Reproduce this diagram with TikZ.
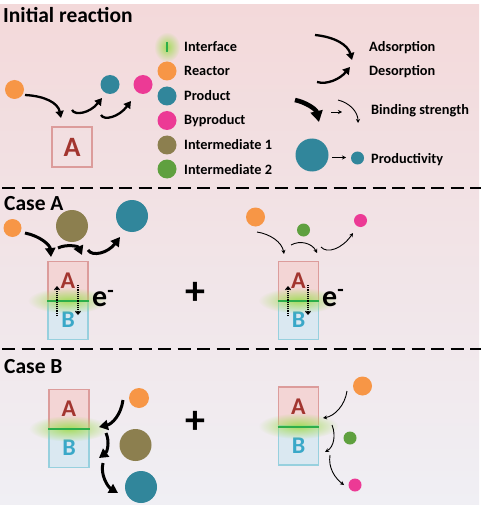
\documentclass[tikz,border=0pt]{standalone}
\usepackage{fontspec}
\setmainfont{Carlito}
\usetikzlibrary{arrows.meta,fadings}
\definecolor{bgtop}{HTML}{F3D9DA}
\definecolor{bgmid}{HTML}{F2E4E7}
\definecolor{bgbot}{HTML}{F0EFF4}
\definecolor{corange}{HTML}{F79646}
\definecolor{cteal}{HTML}{31869B}
\definecolor{cpink}{HTML}{EC3A95}
\definecolor{colive}{HTML}{8C7F4F}
\definecolor{cgreen}{HTML}{5FA03F}
\definecolor{boxAline}{HTML}{DC9C9B}
\definecolor{boxAfill}{HTML}{F3D5D5}
\definecolor{boxBline}{HTML}{97D0DE}
\definecolor{boxBfill}{HTML}{DAE8F1}
\definecolor{letterA}{HTML}{A2352F}
\definecolor{letterB}{HTML}{3AA8C8}
\definecolor{ifline}{HTML}{2DAE4A}
\definecolor{glowg}{HTML}{A6DC5E}
\tikzfading[name=glowfade, inner color=transparent!0, outer color=transparent!100]
\tikzset{
  ball/.style={circle, fill=#1, draw=none, inner sep=0pt},
  lbl/.style={anchor=base west, inner sep=0pt, font=\bfseries\fontsize{14.3}{16}\selectfont},
  ttl/.style={anchor=base west, inner sep=0pt, font=\bfseries\fontsize{21.5}{23}\selectfont},
  boxa/.style={draw=boxAline, fill=boxAfill, line width=1.6pt, minimum width=40pt, minimum height=39pt, inner sep=0pt, text=letterA, font=\bfseries\fontsize{24}{25}\selectfont},
  boxb/.style={draw=boxBline, fill=boxBfill, line width=1.6pt, minimum width=40pt, minimum height=39pt, inner sep=0pt, text=letterB, font=\bfseries\fontsize{24}{25}\selectfont},
  midarr/.style={line width=2.3pt, -{Triangle[length=7pt,width=8pt]}},
  fatarr/.style={line width=3pt, -{Triangle[length=9pt,width=10pt]}},
  heavyarr/.style={line width=4.5pt, -{Triangle[length=11pt,width=12pt]}},
  thinarr/.style={line width=0.9pt, -{Stealth[length=4pt,width=4pt]}},
  dotarr/.style={densely dotted, line width=1.2pt, -{Straight Barb[length=3pt,width=5pt]}},
  ifl/.style={draw=ifline, line width=2.2pt},
  glow/.style={fill=glowg, path fading=glowfade},
  elec/.style={anchor=base west, inner sep=0pt, font=\bfseries\fontsize{30}{32}\selectfont},
  plus/.style={inner sep=0pt, font=\bfseries\fontsize{40}{40}\selectfont},
  dashsep/.style={line width=2.8pt, dash pattern=on 13pt off 6.5pt}
}
\begin{document}
\begin{tikzpicture}[x=1pt,y=-1pt]
\useasboundingbox (0,0) rectangle (481,505);
\fill[white] (0,0) rectangle (481,505);
\shade[top color=bgtop, middle color=bgmid, bottom color=bgbot] (0,5) rectangle (479,505);

% ---------- titles
\node[ttl] (t0) at (3,23) {Initial reaction};
\node[ttl] (t1) at (4,210) {Case A};
\node[ttl] (t2) at (4,373) {Case B};

% ---------- initial reaction
\node[ball=corange, minimum size=19pt] (r0) at (14.5,89.5) {};
\node[ball=cteal, minimum size=19pt] (p0) at (110,84.5) {};
\node[ball=cpink, minimum size=19pt] (y0) at (143,84.5) {};
\node[boxa, minimum height=40pt, font=\bfseries\fontsize{28}{30}\selectfont, fill=none] (bx0) at (72,147) {A};
\coordinate (r0s) at (25,95);   \coordinate (r0e) at (61,118);
\coordinate (p0s) at (72,110);  \coordinate (p0e) at (102,98);
\coordinate (y0s) at (101,115); \coordinate (y0e) at (131,101);
\draw[midarr] (r0s) .. controls (45,96) and (58,103) .. (r0e);
\draw[midarr] (p0s) .. controls (75,116) and (90,113) .. (p0e);
\draw[midarr] (y0s) .. controls (104,121) and (119,117) .. (y0e);

% ---------- legend left
\fill[glow] (167,47) ellipse (13 and 15);
\coordinate (ifa) at (167,42); \coordinate (ifb) at (167,52.5);
\draw[ifl, line width=2.6pt] (ifa) -- (ifb);
\node[lbl] (lif) at (184,51.5) {Interface};
\node[ball=corange, minimum size=19pt] (lr) at (167,71) {};
\node[lbl] (lrt) at (184,76) {Reactor};
\node[ball=cteal, minimum size=19pt] (lp) at (167,96) {};
\node[lbl] (lpt) at (184,100.5) {Product};
\node[ball=cpink, minimum size=19pt] (lb) at (167,120.5) {};
\node[lbl] (lbt) at (184,125) {Byproduct};
\node[ball=colive, minimum size=19pt] (li1) at (167,145) {};
\node[lbl] (li1t) at (184,149.5) {Intermediate 1};
\node[ball=cgreen, minimum size=19pt] (li2) at (167,169) {};
\node[lbl] (li2t) at (184,174) {Intermediate 2};

% ---------- legend right
\coordinate (ads) at (315,35); \coordinate (ade) at (352,60);
\draw[midarr] (ads) .. controls (335,37) and (348,45) .. (ade);
\node[lbl] (adt) at (369,51.5) {Adsorption};
\coordinate (des) at (317,82); \coordinate (dee) at (350,67);
\draw[midarr] (des) .. controls (327,85) and (340,79) .. (dee);
\node[lbl] (det) at (369,76) {Desorption};
\coordinate (bs1) at (295,100); \coordinate (be1) at (319,122);
\draw[heavyarr] (bs1) .. controls (305,102) and (316,109) .. (be1);
\coordinate (bs2) at (331,112); \coordinate (be2) at (342,112);
\draw[thinarr] (bs2) -- (be2);
\coordinate (bs3) at (338,100); \coordinate (be3) at (358,123);
\draw[thinarr] (bs3) .. controls (350,103) and (358,112) .. (be3);
\node[lbl] (bst) at (371,115) {Binding strength};
\node[ball=cteal, minimum size=33pt] (pbig) at (312,155) {};
\node[ball=cteal, minimum size=13pt] (psml) at (357.5,158) {};
\coordinate (pas) at (332,157.5); \coordinate (pae) at (346,157.5);
\draw[thinarr] (pas) -- (pae);
\node[lbl] (prt) at (371,163) {Productivity};

% ---------- separators
\coordinate (d1a) at (2,188); \coordinate (d1b) at (481,188);
\draw[dashsep] (d1a) -- (d1b);
\coordinate (d2a) at (2,349); \coordinate (d2b) at (481,349);
\draw[dashsep] (d2a) -- (d2b);

% ---------- Case A left
\node[ball=corange, minimum size=18pt] (ca_r) at (12.5,228) {};
\node[ball=colive, minimum size=32pt] (ca_i) at (72,226) {};
\node[ball=cteal, minimum size=32pt] (ca_p) at (132,216) {};
\node[boxa] (caA) at (68,281) {A};
\node[boxb] (caB) at (68,320) {B};
\fill[glow] (68,300.5) ellipse (40 and 13);
\draw[ifl] (caA.south west) -- (caA.south east);
\coordinate (ca1s) at (25,233);  \coordinate (ca1e) at (51,257);
\coordinate (ca2s) at (58,248);  \coordinate (ca2e) at (82,255);
\coordinate (ca3s) at (88,250);  \coordinate (ca3e) at (120,237);
\draw[fatarr] (ca1s) .. controls (40,236) and (50,245) .. (ca1e);
\draw[fatarr] (ca2s) .. controls (66,244) and (78,246) .. (ca2e);
\draw[fatarr] (ca3s) .. controls (92,257) and (108,253) .. (ca3e);
\coordinate (cau1) at (57,316); \coordinate (cau2) at (57,286);
\coordinate (cad1) at (78,285); \coordinate (cad2) at (78,315);
\draw[dotarr] (cau1) -- (cau2);
\draw[dotarr] (cad1) -- (cad2);
\node[elec] (cae) at (92,306.5) {e\textsuperscript{-}};
\node[plus] (pl1) at (195,293) {+};

% ---------- Case A right
\node[ball=corange, minimum size=19pt] (cb_r) at (255.5,217) {};
\node[ball=cgreen, minimum size=13pt] (cb_i) at (303.5,230) {};
\node[ball=cpink, minimum size=13pt] (cb_y) at (360.5,220.5) {};
\node[boxa] (cbA) at (298.5,281) {A};
\node[boxb] (cbB) at (298.5,320) {B};
\fill[glow] (298.5,300.5) ellipse (40 and 13);
\draw[ifl] (cbA.south west) -- (cbA.south east);
\coordinate (cb1s) at (257,232); \coordinate (cb1e) at (284,254);
\coordinate (cb2s) at (291,245); \coordinate (cb2e) at (317,253);
\coordinate (cb3s) at (321,247); \coordinate (cb3e) at (353,233);
\draw[thinarr] (cb1s) .. controls (270,234) and (282,242) .. (cb1e);
\draw[thinarr] (cb2s) .. controls (300,240) and (312,243) .. (cb2e);
\draw[thinarr] (cb3s) .. controls (327,254) and (342,249) .. (cb3e);
\coordinate (cbu1) at (288,316); \coordinate (cbu2) at (288,286);
\coordinate (cbd1) at (308,285); \coordinate (cbd2) at (308,315);
\draw[dotarr] (cbu1) -- (cbu2);
\draw[dotarr] (cbd1) -- (cbd2);
\node[elec] (cbe) at (322,306) {e\textsuperscript{-}};

% ---------- Case B left
\node[boxa] (cBA) at (69,409) {A};
\node[boxb] (cBB) at (69,448) {B};
\fill[glow] (69,428.5) ellipse (40 and 13);
\draw[ifl] (cBA.south west) -- (cBA.south east);
\node[ball=corange, minimum size=20pt] (cc_r) at (139,398) {};
\node[ball=colive, minimum size=32pt] (cc_i) at (135.5,445) {};
\node[ball=cteal, minimum size=32pt] (cc_p) at (141,487) {};
\coordinate (cc1s) at (123,400); \coordinate (cc1e) at (99,427);
\coordinate (cc2s) at (106,433); \coordinate (cc2e) at (99,458);
\coordinate (cc3s) at (103,463); \coordinate (cc3e) at (118,493);
\draw[fatarr] (cc1s) .. controls (121,415) and (112,424) .. (cc1e);
\draw[fatarr] (cc2s) .. controls (110,442) and (107,452) .. (cc2e);
\draw[fatarr] (cc3s) .. controls (100,475) and (108,487) .. (cc3e);
\node[plus] (pl2) at (195,422) {+};

% ---------- Case B right
\node[boxa] (cDA) at (298.5,406.5) {A};
\node[boxb] (cDB) at (298.5,445.5) {B};
\fill[glow] (298.5,426) ellipse (40 and 13);
\draw[ifl] (cDA.south west) -- (cDA.south east);
\node[ball=corange, minimum size=19pt] (cd_r) at (362.5,386) {};
\node[ball=cgreen, minimum size=13pt] (cd_i) at (350,438) {};
\node[ball=cpink, minimum size=13pt] (cd_y) at (355,485) {};
\coordinate (cd1s) at (347,391); \coordinate (cd1e) at (323,418);
\coordinate (cd2s) at (332,425); \coordinate (cd2e) at (325,452);
\coordinate (cd3s) at (330,455); \coordinate (cd3e) at (344,485);
\draw[thinarr] (cd1s) .. controls (345,405) and (335,416) .. (cd1e);
\draw[thinarr] (cd2s) .. controls (336,435) and (334,447) .. (cd2e);
\draw[thinarr] (cd3s) .. controls (328,468) and (335,478) .. (cd3e);
\end{tikzpicture}
\end{document}
